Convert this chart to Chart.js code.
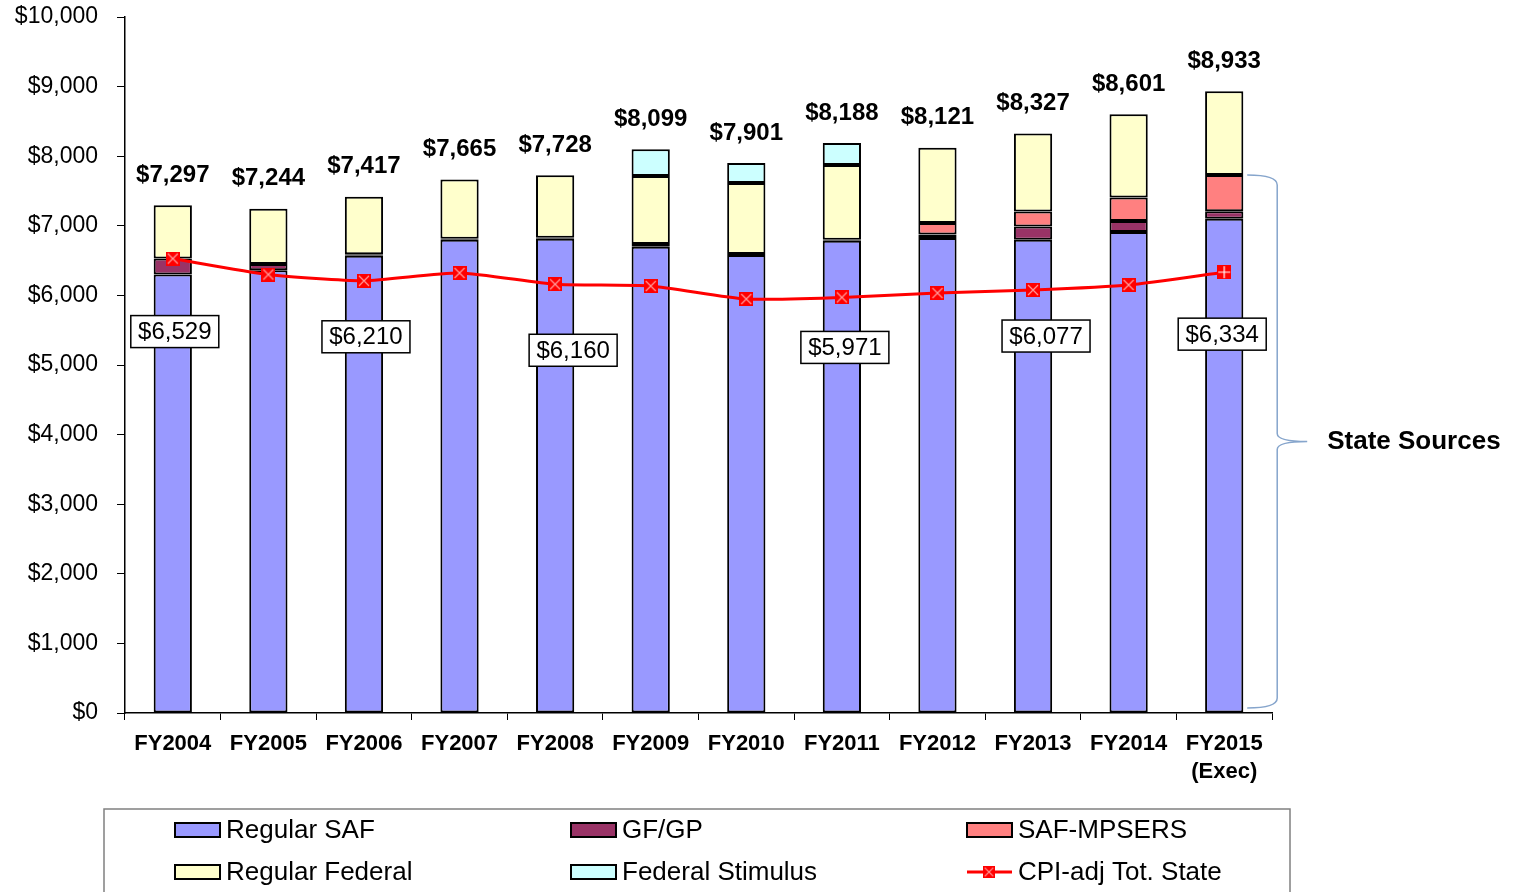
<!DOCTYPE html>
<html>
<head>
<meta charset="utf-8">
<script src="https://cdn.jsdelivr.net/npm/chart.js@4.4.1/dist/chart.umd.min.js"></script>
<style>
  html, body { margin: 0; padding: 0; background: #fff; }
  #wrap { position: relative; width: 1513px; height: 892px; }
</style>
</head>
<body>
<div id="wrap"><canvas id="fundingChart"></canvas></div>
<script>
// categories along the x axis
const categories = ['FY2004', 'FY2005', 'FY2006', 'FY2007', 'FY2008', 'FY2009',
    'FY2010', 'FY2011', 'FY2012', 'FY2013', 'FY2014', ['FY2015', '(Exec)']];

// stacked bar pieces (millions), bottom to top
const regularSAF = [6300, 6360, 6570, 6800, 6815, 6700, 6580, 6785, 6825, 6800, 6910, 7100];
const gfgp = [230, 90, 20, 15, 15, 40, 15, 15, 50, 190, 160, 110];
const safMpsers = [null, null, null, null, null, null, null, null, 165, 215, 335, 520];
const regularFederal = [767, 794, 827, 850, 898, 976, 1020, 1074, 1081, 1122, 1196, 1203];
const federalStimulus = [null, null, null, null, null, 383, 286, 314, null, null, null, null];

// totals printed above the bars
const totals = [7297, 7244, 7417, 7665, 7728, 8099, 7901, 8188, 8121, 8327, 8601, 8933];

// CPI adjusted total state line
const cpiAdjState = [6529, 6300, 6210, 6322, 6160, 6135, 5948, 5971, 6034, 6077, 6150, 6334];

// which line points get a boxed label
const boxedPoints = [0, 2, 4, 7, 9, 11];

// y axis ticks
const yMin = 0;
const yMax = 10000;
const yStep = 1000;

const fmt = v => '$' + v.toLocaleString('en-US');

// marker images for the red line
function makeMarker(plus) {
    const c = document.createElement('canvas');
    c.width = 14; c.height = 14;
    const g = c.getContext('2d');
    g.fillStyle = '#ff0000';
    g.fillRect(0, 0, 14, 14);
    g.strokeStyle = plus ? '#ffffff' : '#ff9a9a';
    g.lineWidth = 1.2;
    g.beginPath();
    if (plus) {
        g.moveTo(7, 1); g.lineTo(7, 13);
        g.moveTo(1, 7); g.lineTo(13, 7);
    } else {
        g.moveTo(2, 2); g.lineTo(12, 12);
        g.moveTo(12, 2); g.lineTo(2, 12);
    }
    g.stroke();
    return c;
}
const xMarker = makeMarker(false);
const plusMarker = makeMarker(true);

// totals above bars + boxed values on the line
const labelPlugin = {
    id: 'labelPlugin',
    afterDatasetsDraw(chart) {
        const ctx = chart.ctx;
        const xs = chart.scales.x, ys = chart.scales.y;
        ctx.save();
        ctx.fillStyle = '#000';
        ctx.font = 'bold 24px "Liberation Sans", Arial, sans-serif';
        ctx.textAlign = 'center';
        ctx.textBaseline = 'middle';
        totals.forEach((t, i) => {
            ctx.fillText(fmt(t), xs.getPixelForValue(i), ys.getPixelForValue(t) - 30);
        });

        // boxed line values, nudged below the points
        const dy = [73, 0, 56, 0, 66, 0, 0, 50, 0, 46, 0, 62];
        const dx = [2, 0, 2, 0, 18, 0, 0, 3, 0, 13, 0, -2];
        ctx.font = '24px "Liberation Sans", Arial, sans-serif';
        boxedPoints.forEach(i => {
            const cx = xs.getPixelForValue(i) + dx[i];
            const cy = ys.getPixelForValue(cpiAdjState[i]) + dy[i];
            const w = 88, h = 32;
            ctx.fillStyle = '#fff';
            ctx.fillRect(cx - w / 2, cy - h / 2, w, h);
            ctx.strokeStyle = '#000';
            ctx.lineWidth = 1.5;
            ctx.strokeRect(cx - w / 2, cy - h / 2, w, h);
            ctx.fillStyle = '#000';
            ctx.fillText(fmt(cpiAdjState[i]), cx, cy + 1);
        });
        ctx.restore();
    }
};

// brace for "State Sources" and the boxed legend at the bottom
const extrasPlugin = {
    id: 'extrasPlugin',
    afterDraw(chart) {
        const ctx = chart.ctx;
        const xs = chart.scales.x, ys = chart.scales.y;
        const last = categories.length - 1;
        const stateTop = regularSAF[last] + gfgp[last] + (safMpsers[last] || 0);

        const x0 = xs.getPixelForValue(last) + 23;
        const xv = x0 + 30;
        const tip = xv + 30;
        const top = ys.getPixelForValue(stateTop);
        const bot = ys.getPixelForValue(0) - 5;
        const mid = (top + bot) / 2;
        ctx.save();
        ctx.strokeStyle = '#86a5cc';
        ctx.lineWidth = 1.5;
        ctx.beginPath();
        ctx.moveTo(x0, top);
        ctx.quadraticCurveTo(xv, top, xv, top + 10);
        ctx.lineTo(xv, mid - 8);
        ctx.quadraticCurveTo(xv, mid, tip, mid);
        ctx.quadraticCurveTo(xv, mid, xv, mid + 8);
        ctx.lineTo(xv, bot - 10);
        ctx.quadraticCurveTo(xv, bot, x0, bot);
        ctx.stroke();

        ctx.fillStyle = '#000';
        ctx.font = 'bold 26px "Liberation Sans", Arial, sans-serif';
        ctx.textAlign = 'left';
        ctx.textBaseline = 'middle';
        ctx.fillText('State Sources', tip + 20, mid);

        // legend frame
        ctx.strokeStyle = '#808080';
        ctx.lineWidth = 1.5;
        ctx.strokeRect(104, 809, 1186, 120);

        const items = chart.data.datasets;
        const colX = [175, 571, 967];
        const rowY = [830, 872];
        const layout = [0, 1, 2, 3, 4, 5]; // reading order: SAF, GF/GP, MPSERS / Federal, Stimulus, CPI
        ctx.font = '26px "Liberation Sans", Arial, sans-serif';
        layout.forEach((dsIdx, k) => {
            const ds = items[dsIdx];
            const x = colX[k % 3], y = rowY[Math.floor(k / 3)];
            if (ds.type === 'line') {
                ctx.strokeStyle = ds.borderColor;
                ctx.lineWidth = 3;
                ctx.beginPath();
                ctx.moveTo(x, y); ctx.lineTo(x + 45, y);
                ctx.stroke();
                ctx.drawImage(xMarker, x + 22 - 6, y - 6, 12, 12);
            } else {
                ctx.fillStyle = ds.backgroundColor;
                ctx.fillRect(x, y - 7, 45, 14);
                ctx.strokeStyle = '#000';
                ctx.lineWidth = 2;
                ctx.strokeRect(x, y - 7, 45, 14);
            }
            ctx.fillStyle = '#000';
            ctx.fillText(ds.label, x + 51, y + 1);
        });
        ctx.restore();
    }
};

const barStyle = {
    borderColor: '#000',
    borderWidth: 2,
    borderSkipped: false,
    categoryPercentage: 1,
    barPercentage: 0.4,
    stack: 'funds',
    order: 1
};

const ctxFunding = document.getElementById('fundingChart').getContext('2d');
new Chart(ctxFunding, {
    type: 'bar',
    data: {
        labels: categories,
        datasets: [
            { ...barStyle, label: 'Regular SAF', data: regularSAF, backgroundColor: '#9999ff' },
            { ...barStyle, label: 'GF/GP', data: gfgp, backgroundColor: '#993366' },
            { ...barStyle, label: 'SAF-MPSERS', data: safMpsers, backgroundColor: '#ff8080' },
            { ...barStyle, label: 'Regular Federal', data: regularFederal, backgroundColor: '#ffffcc' },
            { ...barStyle, label: 'Federal Stimulus', data: federalStimulus, backgroundColor: '#ccffff' },
            {
                type: 'line',
                label: 'CPI-adj Tot. State',
                data: cpiAdjState,
                stack: 'cpi',
                order: 0,
                borderColor: '#ff0000',
                borderWidth: 3,
                tension: 0.2,
                pointStyle: cpiAdjState.map((v, i) => i === cpiAdjState.length - 1 ? plusMarker : xMarker),
                pointRadius: 7
            }
        ]
    },
    options: {
        responsive: true,
        maintainAspectRatio: false,
        animation: false,
        layout: { padding: { top: 17, right: 241, left: 0, bottom: 0 } },
        plugins: {
            legend: { display: false },
            tooltip: { enabled: false }
        },
        scales: {
            x: {
                stacked: true,
                afterFit: s => { s.height = 179; },
                grid: { drawOnChartArea: false, tickLength: 7, color: '#000', offset: true },
                border: { color: '#000', width: 1.5 },
                ticks: {
                    color: '#000',
                    font: { family: '"Liberation Sans", Arial, sans-serif', size: 22, weight: 'bold', lineHeight: 1.27 },
                    padding: 10,
                    maxRotation: 0,
                    autoSkip: false
                }
            },
            y: {
                stacked: true,
                min: yMin,
                max: yMax,
                // fixed width, and keep the tick padding from pushing the plot down
                afterFit: s => { s.width = 125; s.paddingTop = 14; s.paddingBottom = 14; },
                grid: { drawOnChartArea: false, tickLength: 8, color: '#000' },
                border: { color: '#000', width: 1.5 },
                ticks: {
                    stepSize: yStep,
                    color: '#000',
                    padding: 19,
                    font: { family: '"Liberation Sans", Arial, sans-serif', size: 23 },
                    callback: v => fmt(v)
                }
            }
        }
    },
    plugins: [labelPlugin, extrasPlugin]
});
</script>
</body>
</html>
